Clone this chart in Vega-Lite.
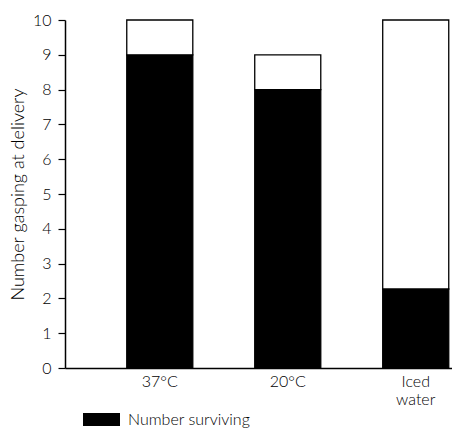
{
  "$schema": "https://vega.github.io/schema/vega-lite/v6.json",
  "autosize": "none",
  "width": 387,
  "height": 348,
  "padding": {"left": 65, "top": 20, "right": 0, "bottom": 62},
  "background": "white",
  "config": {
    "view": {"stroke": null},
    "font": "Lato",
    "axis": {"domainColor": "black", "tickColor": "black", "labelColor": "black", "titleColor": "black", "grid": false, "domainWidth": 1.5, "tickWidth": 1.2}
  },
  "data": {
    "values": [
      {"group": "37°C", "status": "Number surviving", "count": 9, "ord": 1},
      {"group": "37°C", "status": "Not surviving", "count": 1, "ord": 2},
      {"group": "20°C", "status": "Number surviving", "count": 8, "ord": 1},
      {"group": "20°C", "status": "Not surviving", "count": 1, "ord": 2},
      {"group": "Iced water", "status": "Number surviving", "count": 2.27, "ord": 1},
      {"group": "Iced water", "status": "Not surviving", "count": 7.73, "ord": 2}
    ]
  },
  "mark": {"type": "bar", "stroke": "black", "strokeWidth": 1.3},
  "encoding": {
    "x": {
      "field": "group", "type": "nominal", "sort": ["37°C", "20°C", "Iced water"],
      "scale": {"paddingInner": 0.484, "paddingOuter": 0.254, "align": 0.95},
      "axis": {"title": null, "ticks": false, "labelAngle": 0, "labelFontSize": 16, "labelPadding": 5, "labelFontWeight": 300,
        "labelExpr": "datum.label == 'Iced water' ? ['Iced', 'water'] : datum.label", "labelLineHeight": 18}
    },
    "y": {
      "field": "count", "type": "quantitative", "stack": "zero",
      "scale": {"domain": [0, 10], "nice": false},
      "axis": {"title": "Number gasping at delivery", "values": [0,1,2,3,4,5,6,7,8,9,10], "tickSize": 7, "labelFontSize": 16, "labelFontWeight": 300, "labelPadding": 7, "titleFontSize": 18, "titleFontWeight": 300, "titlePadding": 5}
    },
    "color": {
      "field": "status", "type": "nominal",
      "scale": {"domain": ["Number surviving", "Not surviving"], "range": ["black", "white"]},
      "legend": {
        "values": ["Number surviving"], "title": null, "orient": "none", "legendX": 18, "legendY": 381,
        "symbolType": "M-1,-0.35L1,-0.35L1,0.35L-1,0.35Z", "symbolSize": 1369, "symbolStrokeWidth": 0,
        "labelFontSize": 16, "labelFontWeight": 300, "labelColor": "black", "labelOffset": 8
      }
    },
    "order": {"field": "ord", "type": "quantitative"}
  }
}
